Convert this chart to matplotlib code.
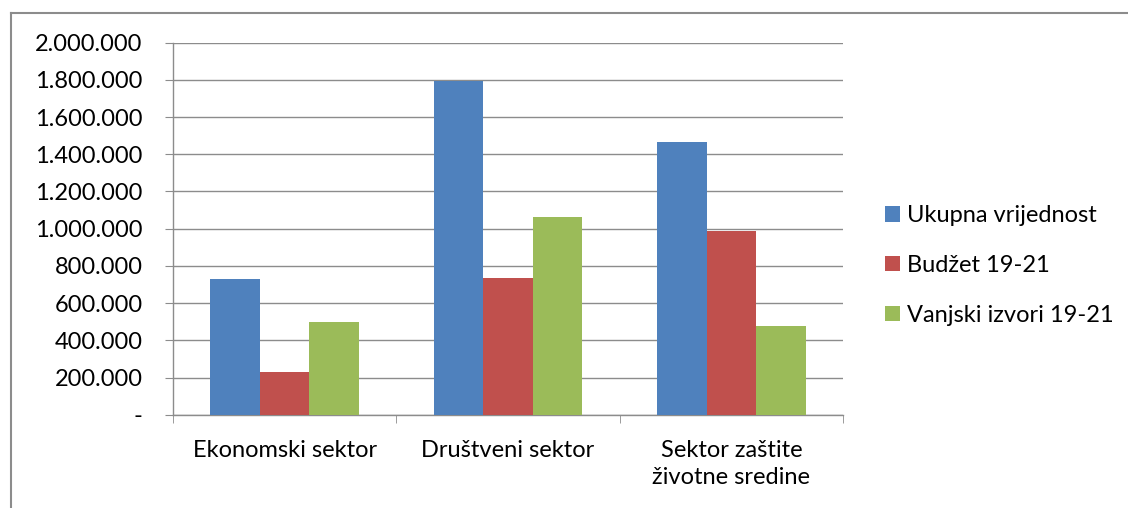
import numpy as np
import matplotlib.pyplot as plt
from matplotlib.lines import Line2D
from matplotlib.ticker import FuncFormatter

categories  = ["Ekonomski sektor", "Društveni sektor", "Sektor zaštite\nživotne sredine"]
series      = ["Ukupna vrijednost", "Budžet 19-21", "Vanjski izvori 19-21"]
ukupna      = [728000, 1796000, 1464000]
budzet      = [228000, 733000, 988000]
vanjski     = [497000, 1061000, 475000]
colors      = ["#4F81BD", "#C0504D", "#9BBB59"]

plt.rcParams['font.family'] = ['Lato', 'DejaVu Sans']
FS = 17

W, H = 1128, 508
fig = plt.figure(figsize=(W / 100, H / 100), dpi=100)
ax = fig.add_axes([173 / W, 1 - 414.7 / H, (843 - 173) / W, (414.7 - 42.7) / H])

# outer chart border (only top and left visible in the crop)
fig.add_artist(Line2D([11 / W, 11 / W], [0, 1 - 13 / H], color="#8C8C8C", lw=1.5))
fig.add_artist(Line2D([11 / W, 1], [1 - 13 / H, 1 - 13 / H], color="#8C8C8C", lw=1.5))

x = np.arange(len(categories))
bar_w = 1 / 4.5
for i, (vals, name) in enumerate(zip([ukupna, budzet, vanjski], series)):
    ax.bar(x + (i - 1) * bar_w, vals, width=bar_w, color=colors[i], label=name, zorder=3)

ax.set_xlim(-0.5, len(categories) - 0.5)
ax.set_ylim(0, 2000000)
ax.set_yticks(np.arange(0, 2000001, 200000))
ax.yaxis.set_major_formatter(FuncFormatter(
    lambda v, p: "-" if v == 0 else f"{int(v):,}".replace(",", ".")))
ax.grid(axis="y", color="#8C8C8C", lw=1, zorder=0)

for s in ["top", "right"]:
    ax.spines[s].set_visible(False)
for s in ["left", "bottom"]:
    ax.spines[s].set_color("#8C8C8C")
    ax.spines[s].set_linewidth(1)

ax.set_xticks(x)
ax.set_xticklabels(categories, fontsize=FS, linespacing=1.4)
ax.set_xticks(np.arange(-0.5, len(categories)), minor=True)
ax.tick_params(axis="x", which="major", length=0, pad=18)
ax.tick_params(axis="x", which="minor", length=5.8, color="#8C8C8C")
ax.tick_params(axis="y", length=5.8, color="#8C8C8C", labelsize=FS, pad=16)
for lbl in ax.get_xticklabels():
    lbl.set_verticalalignment("top")

fig.legend(loc="upper left", bbox_to_anchor=(885 / W, 1 - 205 / H), frameon=False,
           fontsize=FS, handlelength=0.64, handleheight=0.64, handletextpad=0.3,
           labelspacing=1.22, borderaxespad=0, borderpad=0)

fig.savefig("out.png", dpi=100)
